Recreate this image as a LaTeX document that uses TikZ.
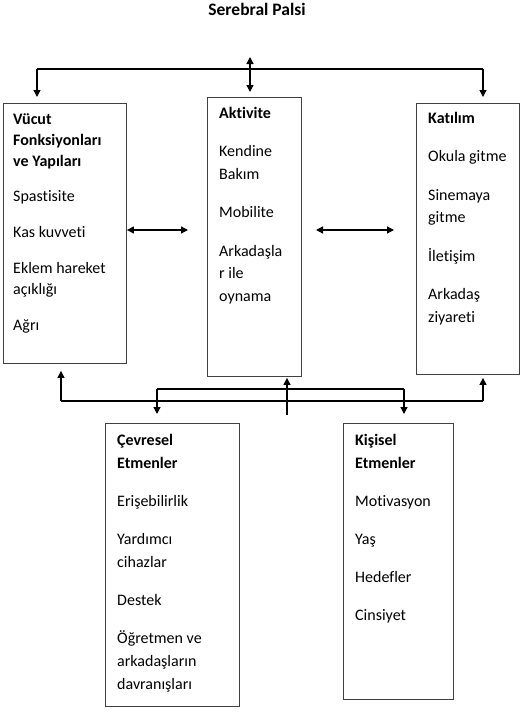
\documentclass[tikz,border=0pt]{standalone}
\usepackage{fontspec}
\setmainfont{Carlito}[Ligatures=NoCommon]
\usetikzlibrary{arrows.meta}
\begin{document}
\begin{tikzpicture}[x=1pt,y=-1pt,
  box/.style={draw=black!75, line width=0.9pt, inner sep=0pt, anchor=north west},
  txt/.style={anchor=north west, inner sep=0pt, align=left},
  line/.style={line width=1.3pt},
  arr/.style={line, -{Triangle[length=7pt,width=7pt]}},
  darr/.style={line, {Triangle[length=7pt,width=7pt]}-{Triangle[length=7pt,width=7pt]}}]
\useasboundingbox (0,0) rectangle (523,718);

% title
\node[anchor=base, inner sep=0pt, font=\bfseries\fontsize{17.5}{20}\selectfont] (title) at (257,15) {Serebral Palsi};

% boxes
\node[box, minimum width=123pt, minimum height=260pt] (vb) at (3,103) {};
\node[box, minimum width=94pt, minimum height=279pt] (ab) at (207,97) {};
\node[box, minimum width=103pt, minimum height=271pt] (kb) at (416,103) {};
\node[box, minimum width=134pt, minimum height=283pt] (cb) at (105,423) {};
\node[box, minimum width=110pt, minimum height=276pt] (pb) at (343,423) {};

% texts
\node[txt, font=\fontsize{16}{21}\selectfont] (vt) at (13,109.3)
  {\strut\textbf{Vücut}\\\textbf{Fonksiyonları}\\\textbf{ve Yapıları}\\[14pt]Spastisite\\[15pt]Kas kuvveti\\[15pt]Eklem hareket\\açıklığı\\[15pt]Ağrı};
\node[txt, font=\fontsize{16}{22.5}\selectfont] (at) at (219,102.25)
  {\strut\textbf{Aktivite}\\[16pt]Kendine\\Bakım\\[16pt]Mobilite\\[16pt]Arkadaşla\\r ile\\oynama};
\node[txt, font=\fontsize{16}{22.5}\selectfont] (kt) at (428,107.25)
  {\strut\textbf{Katılım}\\[16pt]Okula gitme\\[16pt]Sinemaya\\gitme\\[16pt]İletişim\\[16pt]Arkadaş\\ziyareti};
\node[txt, font=\fontsize{16}{23}\selectfont] (ct) at (117,428.9)
  {\strut\textbf{Çevresel}\\\textbf{Etmenler}\\[15pt]Erişebilirlik\\[15pt]Yardımcı\\cihazlar\\[15pt]Destek\\[15pt]Öğretmen ve\\arkadaşların\\davranışları};
\node[txt, font=\fontsize{16}{23}\selectfont] (pt) at (355,428.9)
  {\strut\textbf{Kişisel}\\\textbf{Etmenler}\\[15pt]Motivasyon\\[15pt]Yaş\\[15pt]Hedefler\\[15pt]Cinsiyet};

% top connectors
\coordinate (tl) at (37,69);
\coordinate (tr) at (483,69);
\coordinate (tc) at (250,57);
\draw[line] (tl) -- (tr);
\draw[arr, shorten >=6pt] (tl) -- (tl |- vb.north);
\draw[arr, shorten >=6pt] (tr) -- (tr |- kb.north);
\draw[darr, shorten >=5pt] (tc) -- (tc |- ab.north);

% horizontal double arrows
\coordinate (h1) at (188,230);
\draw[darr] (vb.east |- h1) -- (h1);
\coordinate (h2a) at (316,230);
\coordinate (h2b) at (394,230);
\draw[darr] (h2a) -- (h2b);

% bottom connectors
\coordinate (bl) at (61,401);
\coordinate (br) at (483,401);
\coordinate (ul) at (157,389);
\coordinate (ur) at (404,389);
\coordinate (cs) at (287,415);
\draw[line] (bl) -- (br);
\draw[arr, shorten >=7pt] (bl) -- (bl |- vb.south);
\draw[arr, shorten >=3pt] (br) -- (br |- kb.south);
\draw[line] (ul) -- (ur);
\draw[arr, shorten >=9pt] (ul) -- (ul |- cb.north);
\draw[arr, shorten >=9pt] (ur) -- (ur |- pb.north);
\draw[arr, shorten >=1pt] (cs) -- (cs |- ab.south);
\end{tikzpicture}
\end{document}
